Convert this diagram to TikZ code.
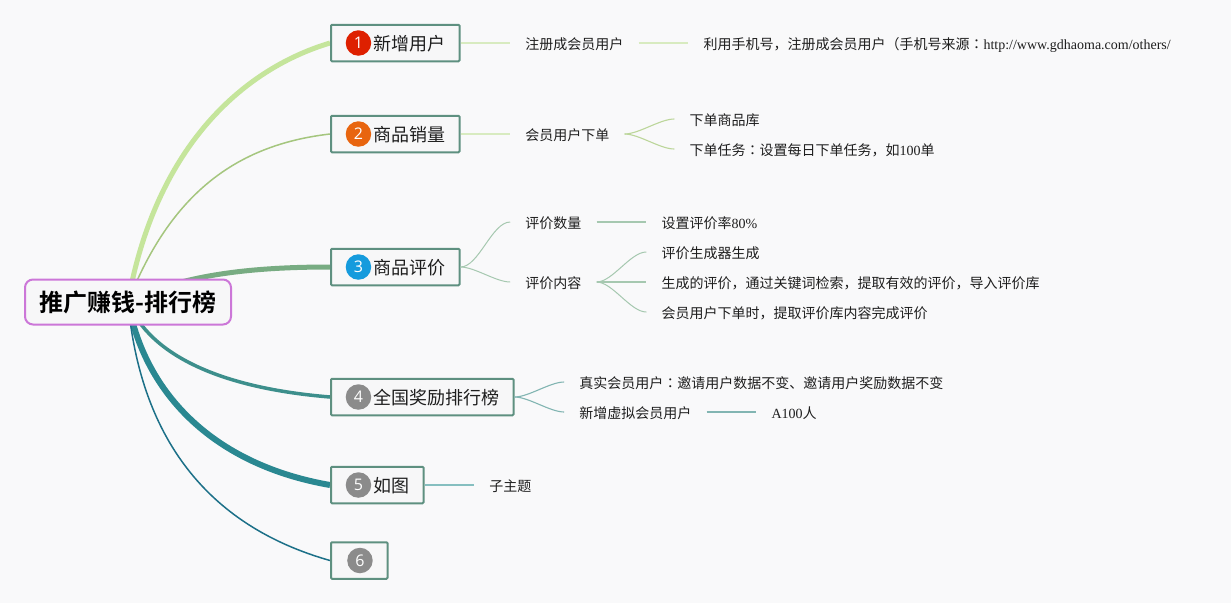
\documentclass[tikz,border=0pt]{standalone}
\usepackage{fontspec}
\setmainfont{Liberation Serif}
\newfontfamily\cjk[BoldFont={Noto Sans CJK SC Bold}]{Noto Sans CJK SC}
\newfontfamily\cjkmid{Noto Sans CJK TC}
\newfontfamily\digitfont{Open Sans}
\usetikzlibrary{positioning,backgrounds}
\newcommand{\zh}[1]{{\cjk #1}}
\newcommand{\midcolon}{{\cjkmid ：}}
\definecolor{paper}{HTML}{F9F9FA}
\definecolor{boxfill}{HTML}{F7F7F8}
\definecolor{boxline}{HTML}{5E9080}
\definecolor{rootline}{HTML}{CC77D8}
\definecolor{inkdark}{HTML}{1E1E1E}
\definecolor{branchA}{HTML}{C5E59B}
\definecolor{branchB}{HTML}{A5C67E}
\definecolor{branchC}{HTML}{78AC82}
\definecolor{branchD}{HTML}{3D8F8C}
\definecolor{branchE}{HTML}{2A8891}
\definecolor{branchF}{HTML}{1C7088}
\definecolor{twigA}{HTML}{D8EBC0}
\definecolor{twigB}{HTML}{BCD69A}
\definecolor{twigC}{HTML}{A6C8B0}
\definecolor{twigD}{HTML}{82B5B2}
\definecolor{twigE}{HTML}{86BFC0}
\definecolor{badgeA}{HTML}{DE2000}
\definecolor{badgeB}{HTML}{E8650F}
\definecolor{badgeC}{HTML}{159BDD}
\definecolor{badgeD}{HTML}{8B8B8B}
\tikzset{
  rootbox/.style={draw=rootline, fill=boxfill, line width=2pt, rounded corners=8pt,
    minimum width=206pt, minimum height=45pt, inner sep=0pt, text=black,
    font=\fontsize{24}{28}\selectfont\bfseries},
  topic/.style={draw=boxline, fill=boxfill, line width=2pt, rounded corners=1pt, anchor=west,
    minimum height=36.5pt, inner ysep=0pt, inner xsep=14.5pt, text height=14pt, text depth=0pt, text=inkdark,
    font=\fontsize{18}{22}\selectfont},
  badge/.style={circle, fill=#1, minimum size=25.5pt, inner sep=0pt, text=white,
    font=\digitfont\fontsize{16}{18}\selectfont},
  leaf/.style={inner xsep=15pt, inner ysep=0pt, text height=12pt, text depth=0pt, text=inkdark,
    node distance=49.7pt, font=\fontsize{14}{16}\selectfont},
  fan/.style={out=0, in=180, looseness=0.7}
}
\begin{document}
\begin{tikzpicture}[x=1pt, y=-1pt]
      \useasboundingbox (0,0) rectangle (1231,603);

      % nodes

      %centre
      \node[rootbox] (root) at (128,302) {\zh{推广赚钱-排行榜}};

      %topics
      \node[topic] (new_user) at (330,43) {\hspace*{27.5pt}\zh{新增用户}};
      \node[topic] (sales) at (330,134) {\hspace*{27.5pt}\zh{商品销量}};
      \node[topic] (review) at (330,267) {\hspace*{27.5pt}\zh{商品评价}};
      \node[topic] (ranking) at (330,397) {\hspace*{27.5pt}\zh{全国奖励排行榜}};
      \node[topic] (figure) at (330,485) {\hspace*{27.5pt}\zh{如图}};
      \node[topic] (blank) at (330,560.5) {\hspace*{27.5pt}};

      %badges
      \node[badge=badgeA, right=15.5pt of new_user.west] (badge_one) {1};
      \node[badge=badgeB, right=15.5pt of sales.west] (badge_two) {2};
      \node[badge=badgeC, right=15.5pt of review.west] (badge_three) {3};
      \node[badge=badgeD, right=15.5pt of ranking.west] (badge_four) {4};
      \node[badge=badgeD, right=15.5pt of figure.west] (badge_five) {5};
      \node[badge=badgeD, right=17pt of blank.west] (badge_six) {6};

      %new user
      \node[leaf, right=of new_user] (signup) {\zh{注册成会员用户}};
      \node[leaf, right=of signup] (signup_note) {\zh{利用手机号，注册成会员用户（手机号来源\midcolon}http://www.gdhaoma.com/others/};

      %sales
      \node[leaf, right=of sales] (order) {\zh{会员用户下单}};
      \node[leaf, right=of order, yshift=15pt] (order_store) {\zh{下单商品库}};
      \node[leaf, right=of order, yshift=-15pt] (order_task) {\zh{下单任务\midcolon 设置每日下单任务，如}100\zh{单}};

      %review
      \node[leaf, right=of review, yshift=45pt] (review_count) {\zh{评价数量}};
      \node[leaf, right=of review, yshift=-15pt] (review_text) {\zh{评价内容}};
      \node[leaf, right=of review_count] (review_rate) {\zh{设置评价率}80\%};
      \node[leaf, right=of review_text, yshift=30pt] (review_gen) {\zh{评价生成器生成}};
      \node[leaf, right=of review_text] (review_pick) {\zh{生成的评价，通过关键词检索，提取有效的评价，导入评价库}};
      \node[leaf, right=of review_text, yshift=-30pt] (review_done) {\zh{会员用户下单时，提取评价库内容完成评价}};

      %ranking
      \node[leaf, right=of ranking, yshift=15pt] (real_user) {\zh{真实会员用户\midcolon 邀请用户数据不变、邀请用户奖励数据不变}};
      \node[leaf, right=of ranking, yshift=-15pt] (fake_user) {\zh{新增虚拟会员用户}};
      \node[leaf, right=of fake_user] (fake_count) {A100\zh{人}};

      %figure
      \node[leaf, right=of figure] (subtopic) {\zh{子主题}};

      % edges
      \begin{scope}[on background layer]
        \fill[paper] (0,0) rectangle (1231,603);
        \draw[branchA, line width=5pt] (root.center) .. controls (155,150) and (240,70) .. (new_user.west);
        \draw[branchB, line width=1.5pt] (root.center) .. controls (170,195) and (235,145) .. (sales.west);
        \draw[branchC, line width=5pt] (root.center) .. controls (180,275) and (250,267) .. (review.west);
        \draw[branchD, line width=3.5pt] (root.center) .. controls (150,355) and (220,388) .. (ranking.west);
        \draw[branchE, line width=6pt] (root.center) .. controls (145,395) and (215,465) .. (figure.west);
        \draw[branchF, line width=1.5pt] (root.center) .. controls (140,435) and (205,525) .. (blank.west);
      \end{scope}

      \draw[twigA, line width=1.6pt] (new_user) -- (signup);
      \draw[twigA, line width=1.6pt] (signup) -- (signup_note);
      \draw[twigA, line width=1.6pt] (sales) -- (order);
      \draw[twigB, line width=1.1pt] (order.east) to[fan] (order_store.west);
      \draw[twigB, line width=1.1pt] (order.east) to[fan] (order_task.west);
      \draw[twigC, line width=1pt] (review.east) to[fan] (review_count.west);
      \draw[twigC, line width=1pt] (review.east) to[fan] (review_text.west);
      \draw[twigC, line width=1.4pt] (review_count) -- (review_rate);
      \draw[twigC, line width=1pt] (review_text.east) to[fan] (review_gen.west);
      \draw[twigC, line width=1.4pt] (review_text) -- (review_pick);
      \draw[twigC, line width=1pt] (review_text.east) to[fan] (review_done.west);
      \draw[twigD, line width=1.1pt] (ranking.east) to[fan] (real_user.west);
      \draw[twigD, line width=1.1pt] (ranking.east) to[fan] (fake_user.west);
      \draw[twigD, line width=1.4pt] (fake_user) -- (fake_count);
      \draw[twigE, line width=1.4pt] (figure) -- (subtopic);

\end{tikzpicture}
\end{document}
